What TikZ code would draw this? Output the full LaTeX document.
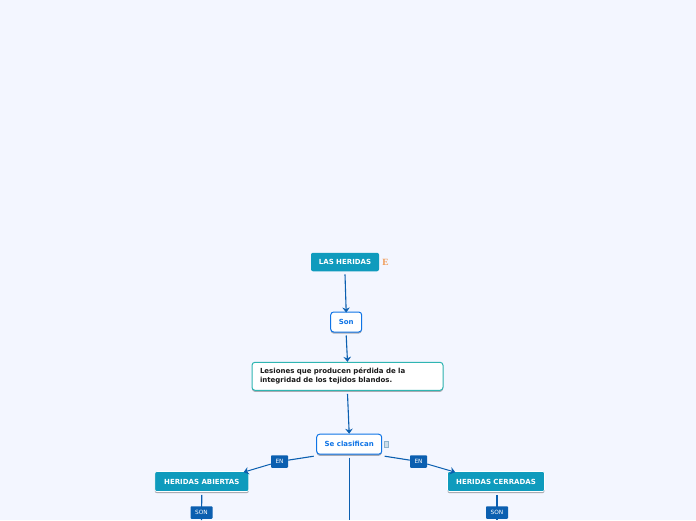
\documentclass[tikz,border=0pt]{standalone}
\usepackage{fontspec}
\setmainfont{DejaVu Sans}
\newfontfamily\markfont{Liberation Serif}
\usepackage{xcolor}
\usetikzlibrary{arrows.meta, positioning, shadows}
\definecolor{pagebg}{HTML}{F3F6FF}
\definecolor{mainteal}{HTML}{0F9BBD}
\definecolor{linkblue}{HTML}{0B5FB0}
\definecolor{textblue}{HTML}{0F74E6}
\definecolor{boxteal}{HTML}{2FB5B2}
\definecolor{noteicon}{HTML}{8FB3CC}
\definecolor{letterorange}{HTML}{F09A55}
\begin{document}
\begin{tikzpicture}[
    x=1pt, y=-1pt,
    every node/.style={font=\bfseries\fontsize{7}{8.8}\selectfont},
    softshadow/.style={drop shadow={shadow xshift=0pt, shadow yshift=-1.6pt, fill=black, opacity=0.3}},
    topic/.style={rectangle, fill=mainteal, text=white, minimum height=18.5pt, inner xsep=0pt, inner ysep=0pt, rounded corners=2pt},
    subtopic/.style={topic, draw=white, line width=0.7pt, minimum height=20pt, softshadow},
    link/.style={rectangle, draw=textblue, line width=1pt, fill=white, text=textblue, minimum height=20pt, inner xsep=0pt, rounded corners=3pt, softshadow},
    textbox/.style={rectangle, draw=boxteal, line width=1pt, fill=white, text=black!90, minimum width=191pt, minimum height=28pt, align=left, text width=175pt, rounded corners=3pt, softshadow},
    tag/.style={rectangle, fill=linkblue, text=white, font=\fontsize{5.8}{7}\selectfont, minimum height=12.5pt, inner xsep=0pt, inner ysep=0pt, rounded corners=0.8pt},
    arrow/.style={-{Stealth[length=5pt, width=7.5pt]}, linkblue, line width=1.1pt},
    line/.style={linkblue, line width=1.1pt}
]
\fill[pagebg] (0,0) rectangle (696,520);
\useasboundingbox (0,0) rectangle (696,520);
\clip (0,0) rectangle (696,520);
\node[topic, minimum width=68pt] (heridas) at (345,262) {LAS HERIDAS};
\node[text=letterorange, font=\markfont\bfseries\fontsize{9.5}{9.5}\selectfont, inner sep=0pt, right=3pt of heridas] (heridas_mark) {E};
\node[link, minimum width=31pt] (son) at (346.2,322) {Son};
\node[textbox] (lesiones) at (347.5,376.3) {Lesiones que producen pérdida de la\\integridad de los tejidos blandos.};
\node[link, minimum width=65pt] (clasifican) at (349.2,444.2) {Se clasifican};
\node[rectangle, draw=noteicon, fill=noteicon!45, line width=0.7pt, minimum width=4pt, minimum height=5.5pt, inner sep=0pt, right=2pt of clasifican] (clasifican_note) {};
\node[subtopic, minimum width=94pt] (abiertas) at (201.8,481.5) {HERIDAS ABIERTAS};
\node[subtopic, minimum width=97pt] (cerradas) at (496,481.5) {HERIDAS CERRADAS};
\coordinate (center_end) at (349.2,520);
\coordinate (abiertas_end) at (201.5,520);
\coordinate (cerradas_end) at (497,520);
\draw[arrow] ([yshift=-3pt]heridas.south) -- ([yshift=-1pt]son.north);
\draw[arrow] ([yshift=-3pt]son.south) -- (lesiones.north);
\draw[arrow] ([yshift=-3pt]lesiones.south) -- (clasifican.north);
\draw[line] ([yshift=-3pt]clasifican.south) -- (center_end);
\node[tag, minimum width=17pt] (en_left) at (279.5,461.5) {EN};
\node[tag, minimum width=17pt] (en_right) at (418.5,461.5) {EN};
\draw[line] ([xshift=-2.5pt,yshift=-1.5pt]clasifican.south west) -- (en_left);
\draw[arrow, line width=1pt] (en_left) -- ([xshift=-5.5pt,yshift=-1pt]abiertas.north east);
\draw[line] ([xshift=2.5pt,yshift=-1.5pt]clasifican.south east) -- (en_right);
\draw[arrow, line width=1pt] (en_right) -- ([xshift=8pt,yshift=-1pt]cerradas.north west);
\draw[line] ([yshift=-3pt]abiertas.south) -- (abiertas_end);
\draw[line] ([yshift=-3pt,xshift=1pt]cerradas.south) -- (cerradas_end);
\node[tag, minimum width=22pt] (son_left) at (201.5,512.5) {SON};
\node[tag, minimum width=22pt] (son_right) at (497,512.5) {SON};
\end{tikzpicture}
\end{document}
